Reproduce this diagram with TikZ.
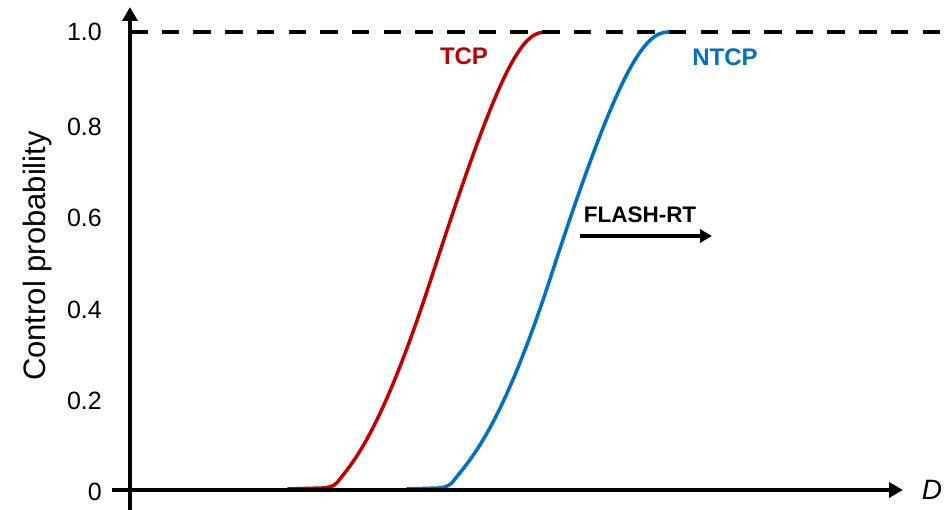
\documentclass[tikz,border=0pt]{standalone}
\usepackage{fontspec}
\setmainfont{Liberation Sans}
\usetikzlibrary{arrows.meta}
\definecolor{tcpred}{HTML}{C00000}
\definecolor{ntcpblue}{HTML}{0070C0}
\begin{document}
\begin{tikzpicture}[x=1pt,y=-1pt,
 axis/.style={line width=4pt,-{Triangle[length=14pt,width=15pt]}},
 curve/.style={line width=3.5pt, line join=round, line cap=round},
 ticklbl/.style={anchor=east, font=\fontsize{25}{30}\selectfont, inner sep=0pt},
 curvelbl/.style={font=\fontsize{24}{28}\selectfont\bfseries, inner sep=0pt},
 refline/.style={line width=3.5pt, dash pattern=on 17.5pt off 14.2pt}]
\useasboundingbox (0,0) rectangle (946,510);
% axes
\coordinate (ybot) at (130,512);
\coordinate (ytop) at (130,7);
\coordinate (xleft) at (112,490);
\coordinate (xright) at (903,490);
\coordinate (dl) at (130,32);
\coordinate (dr) at (946,32);
% curves
\draw[curve, tcpred] (288,489) -- (322,488) .. controls (332,487.5) and (336,485) .. (340,479)
  .. controls (355,459.5) and (382,430) .. (432,276)
  .. controls (497,76) and (520,32) .. (545,32) -- (548,32);
\draw[curve, ntcpblue] (407,489) -- (438,488) .. controls (447,487.5) and (451,485) .. (455,479)
  .. controls (470,459.5) and (501,430) .. (551,276)
  .. controls (616,76) and (643,32) .. (668,32) -- (673,32);
\draw[refline] (dl) -- (dr);
\draw[axis] (ybot) -- (ytop);
\draw[axis] (xleft) -- (xright);
% tick labels
\node[ticklbl] (t10) at (102,32) {1.0};
\node[ticklbl] (t08) at (102,127) {0.8};
\node[ticklbl] (t06) at (102,218) {0.6};
\node[ticklbl] (t04) at (102,310) {0.4};
\node[ticklbl] (t02) at (102,401) {0.2};
\node[ticklbl] (t00) at (102,492) {0};
% axis labels
\node[rotate=90, font=\fontsize{31}{36}\selectfont, inner sep=0pt] (ylab) at (37,256) {Control probability};
\node[font=\fontsize{28}{32}\selectfont\itshape, inner sep=0pt] (xlab) at (932,490) {D};
% curve labels
\node[curvelbl, text=tcpred] (tcp) at (464,56) {TCP};
\node[curvelbl, text=ntcpblue] (ntcp) at (725,57) {NTCP};
\node[font=\fontsize{22.5}{26}\selectfont\bfseries, inner sep=0pt] (flash) at (640,215) {FLASH-RT};
\coordinate (fa) at (580,236);
\coordinate (fb) at (712,236);
\draw[line width=3.5pt, -{Triangle[length=12pt,width=13pt]}] (fa) -- (fb);
\end{tikzpicture}
\end{document}
